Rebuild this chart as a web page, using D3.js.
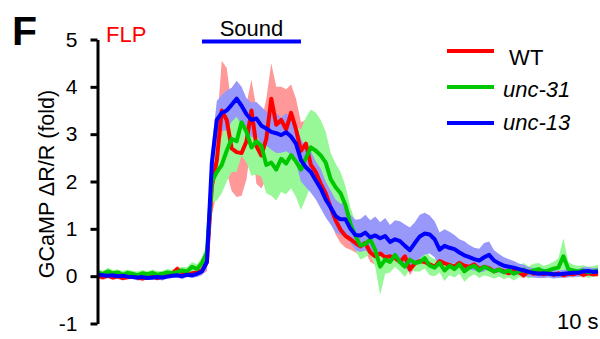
<!DOCTYPE html>
<html>
<head>
<meta charset="utf-8">
<script src="https://cdn.jsdelivr.net/npm/d3@7"></script>
<style>
  html, body { margin: 0; padding: 0; background: #fff; }
  svg { display: block; font-family: Arial, "Liberation Sans", Helvetica, sans-serif; }
</style>
</head>
<body>
<svg id="chart" width="600" height="339"></svg>
<script>
// FLP GCaMP responses to a sound stimulus (mean ± SEM), sampled every 0.5 s
const t0 = -10.5;      // time of first sample (s), stimulus onset at 0
const dt = 0.5;        // sampling interval (s)
const soundOn = [0, 10];

const seriesNames = [" WT", "unc-31", "unc-13"];

const wtMean = [
  0.0,-0.02,0.01,-0.03,0.0,-0.04,-0.02,0.01,-0.03,-0.05,-0.02,0.0,-0.04,-0.01,0.02,0.05,0.15,0.08,0.03,0.06,0.08,0.12,
  0.3,1.9,2.45,3.5,3.3,2.7,2.62,2.6,2.85,3.5,2.75,2.55,2.9,3.75,3.2,3.3,3.1,3.45,3.1,
  2.65,2.8,2.35,2.2,1.95,1.75,1.45,1.18,0.98,0.85,0.78,0.7,0.63,0.7,0.5,0.42,0.48,0.4,0.42,0.38,
  0.3,0.42,0.14,0.27,0.32,0.3,0.25,0.2,0.32,0.27,0.24,0.2,0.28,0.22,0.2,0.25,0.15,0.2,0.17,0.1,
  0.14,0.1,0.06,0.12,0.08,0.02,0.1,0.05,0.07,0.04,0.08,0.03,0.06,0.02,0.05,0.04,0.07,0.03,0.06,0.04,0.05
];
const wtSem = [
  0.05,0.06,0.05,0.04,0.06,0.05,0.05,0.06,0.05,0.04,0.05,0.06,0.05,0.05,0.06,0.05,0.07,0.06,0.05,0.06,0.07,0.08,
  0.2,0.6,0.7,1.05,1.1,0.9,0.95,0.9,0.8,0.65,0.8,0.7,0.85,0.75,0.8,0.7,0.85,0.6,0.65,
  0.6,0.5,0.45,0.4,0.35,0.32,0.3,0.3,0.28,0.25,0.22,0.2,0.2,0.18,0.2,0.18,0.15,0.16,0.14,0.15,
  0.12,0.14,0.12,0.1,0.12,0.1,0.11,0.1,0.12,0.1,0.09,0.1,0.11,0.1,0.09,0.1,0.08,0.09,0.1,0.08,
  0.08,0.07,0.08,0.07,0.08,0.07,0.07,0.08,0.07,0.06,0.07,0.06,0.07,0.06,0.06,0.07,0.06,0.06,0.07,0.06,0.06
];

const unc31Mean = [
  0.08,0.05,0.1,0.06,0.08,0.03,0.07,0.05,0.02,0.06,0.04,0.07,0.03,0.05,0.08,0.06,0.09,0.12,0.1,0.2,0.15,0.28,
  0.5,2.0,2.2,2.35,2.65,2.9,2.85,3.25,3.05,2.72,2.85,2.75,2.35,2.4,2.25,2.48,2.38,2.56,2.42,
  2.25,2.5,2.72,2.65,2.55,2.4,2.05,1.88,1.75,1.5,1.1,0.85,0.65,0.68,0.78,0.55,0.2,0.35,0.3,0.45,
  0.3,0.2,0.35,0.28,0.3,0.38,0.22,0.18,0.28,0.12,0.22,0.15,0.25,0.1,0.18,0.22,0.12,0.2,0.15,0.1,
  0.14,0.08,0.12,0.05,0.1,0.14,0.08,0.12,0.15,0.1,0.12,0.16,0.18,0.42,0.15,0.12,0.1,0.12,0.08,0.1,0.12
];
const unc31Sem = [
  0.07,0.06,0.08,0.07,0.06,0.08,0.07,0.06,0.08,0.07,0.06,0.07,0.08,0.06,0.07,0.08,0.07,0.08,0.09,0.1,0.1,0.12,
  0.2,0.45,0.6,0.6,0.65,0.7,0.65,0.7,0.65,0.6,0.7,0.65,0.6,0.7,0.65,0.7,0.65,0.7,0.75,
  0.85,0.85,0.8,0.8,0.75,0.65,0.55,0.5,0.45,0.4,0.35,0.3,0.3,0.28,0.3,0.35,0.6,0.3,0.22,0.25,
  0.2,0.22,0.2,0.18,0.2,0.22,0.2,0.18,0.2,0.22,0.2,0.18,0.2,0.22,0.2,0.18,0.16,0.18,0.16,0.15,
  0.15,0.14,0.15,0.14,0.13,0.14,0.13,0.14,0.13,0.12,0.13,0.14,0.2,0.38,0.15,0.12,0.12,0.11,0.12,0.11,0.12
];

const unc13Mean = [
  0.03,0.02,0.01,0.02,0.0,0.01,-0.01,-0.02,-0.03,-0.02,-0.04,-0.03,-0.02,-0.03,-0.01,0.01,0.02,0.0,0.03,0.02,0.05,0.1,
  0.3,2.4,3.3,3.45,3.5,3.62,3.75,3.6,3.42,3.3,3.33,3.18,3.12,3.05,3.02,2.98,3.04,2.95,2.8,
  2.45,2.3,2.2,2.02,1.85,1.62,1.45,1.27,1.2,1.2,1.0,0.87,0.86,0.92,0.82,0.86,0.8,0.85,0.72,0.78,
  0.74,0.64,0.55,0.7,0.84,0.9,0.88,0.78,0.56,0.64,0.6,0.57,0.5,0.44,0.4,0.36,0.33,0.4,0.45,0.33,
  0.27,0.22,0.2,0.18,0.15,0.12,0.09,0.07,0.05,0.06,0.05,0.04,0.04,0.05,0.06,0.07,0.07,0.1,0.11,0.09,0.1
];
const unc13Sem = [
  0.05,0.04,0.05,0.06,0.04,0.05,0.05,0.04,0.06,0.05,0.04,0.05,0.05,0.06,0.04,0.05,0.05,0.06,0.05,0.06,0.07,0.08,
  0.15,0.35,0.4,0.38,0.42,0.36,0.38,0.4,0.34,0.37,0.35,0.4,0.36,0.38,0.42,0.37,0.4,0.38,0.42,
  0.45,0.42,0.44,0.4,0.42,0.38,0.36,0.35,0.33,0.36,0.3,0.32,0.35,0.38,0.36,0.4,0.34,0.38,0.36,0.4,
  0.42,0.45,0.48,0.44,0.46,0.44,0.4,0.38,0.36,0.35,0.34,0.3,0.28,0.3,0.26,0.24,0.25,0.3,0.28,0.22,
  0.2,0.18,0.16,0.14,0.12,0.12,0.1,0.1,0.09,0.1,0.08,0.09,0.08,0.08,0.09,0.08,0.08,0.09,0.08,0.08,0.08
];

const yTicks = [-1, 0, 1, 2, 3, 4, 5];

// ---- drawing ----
const lineColors = ["#ff0000", "#00c800", "#0000ff"];
const bandColors = ["#ff9898", "#98f898", "#9898fa"];

const series = [
  { name: seriesNames[0], mean: wtMean, sem: wtSem },
  { name: seriesNames[1], mean: unc31Mean, sem: unc31Sem },
  { name: seriesNames[2], mean: unc13Mean, sem: unc13Sem }
];

const svg = d3.select("#chart");

const x = d3.scaleLinear().domain([-10.6, 40.2]).range([97, 600]);
const y = d3.scaleLinear().domain([-1, 5]).range([323.5, 39.5]);

const time = i => t0 + i * dt;

const plot = svg.append("g");

// SEM bands
const area = d3.area()
  .x((d, i) => x(time(i)))
  .y0(d => y(d[0] - d[1]))
  .y1(d => y(d[0] + d[1]));

series.forEach((s, k) => {
  const pts = s.mean.map((m, i) => [m, s.sem[i]]);
  plot.append("path")
    .datum(pts)
    .attr("d", area)
    .attr("fill", bandColors[k])
    .attr("stroke", "none");
});

// mean traces
const line = d3.line()
  .x((d, i) => x(time(i)))
  .y(d => y(d));

series.forEach((s, k) => {
  plot.append("path")
    .datum(s.mean)
    .attr("d", line)
    .attr("fill", "none")
    .attr("stroke", lineColors[k])
    .attr("stroke-width", 4)
    .attr("stroke-linejoin", "round");
});

// y axis (plain hyphen for negative ticks)
const yAxis = d3.axisLeft(y)
  .tickValues(yTicks)
  .tickFormat(d => String(d))
  .tickSize(7)
  .tickSizeOuter(0)
  .tickPadding(13);

const ag = svg.append("g")
  .attr("transform", "translate(97.5,0)")
  .call(yAxis);
ag.select(".domain").attr("stroke", "#000").attr("stroke-width", 3);
ag.selectAll(".tick line").attr("stroke", "#000").attr("stroke-width", 3);
ag.selectAll(".tick text")
  .attr("fill", "#000")
  .style("font-size", "21px")
  .style("font-family", "Arial, 'Liberation Sans', sans-serif");

// y title
svg.append("text")
  .attr("transform", "translate(53.5,184) rotate(-90)")
  .attr("text-anchor", "middle")
  .style("font-size", "21.5px")
  .text("GCaMP ΔR/R (fold)");

// panel letter and neuron label
svg.append("text")
  .attr("x", 12).attr("y", 45)
  .style("font-size", "41px")
  .style("font-weight", "bold")
  .text("F");

svg.append("text")
  .attr("x", 106).attr("y", 42)
  .attr("fill", "#ff0000")
  .style("font-size", "22px")
  .text("FLP");

// stimulus bar
svg.append("line")
  .attr("x1", x(soundOn[0])).attr("x2", x(soundOn[1]))
  .attr("y1", 41.5).attr("y2", 41.5)
  .attr("stroke", "#0000ff")
  .attr("stroke-width", 4);

svg.append("text")
  .attr("x", (x(soundOn[0]) + x(soundOn[1])) / 2)
  .attr("y", 36)
  .attr("text-anchor", "middle")
  .style("font-size", "22px")
  .text("Sound");

// time scale label
svg.append("text")
  .attr("x", 557).attr("y", 329)
  .style("font-size", "22px")
  .text("10 s");

// legend
const legend = svg.append("g");
series.forEach((s, k) => {
  const ly = 51 + k * 36;
  legend.append("line")
    .attr("x1", 447).attr("x2", 494)
    .attr("y1", ly).attr("y2", ly)
    .attr("stroke", lineColors[k])
    .attr("stroke-width", 4);
  legend.append("text")
    .attr("x", 503)
    .attr("y", 65 + k * 32.3)
    .style("font-size", "22px")
    .style("white-space", "pre")
    .style("font-style", s.name.trim().startsWith("unc") ? "italic" : "normal")
    .text(s.name);
});
</script>
</body>
</html>
